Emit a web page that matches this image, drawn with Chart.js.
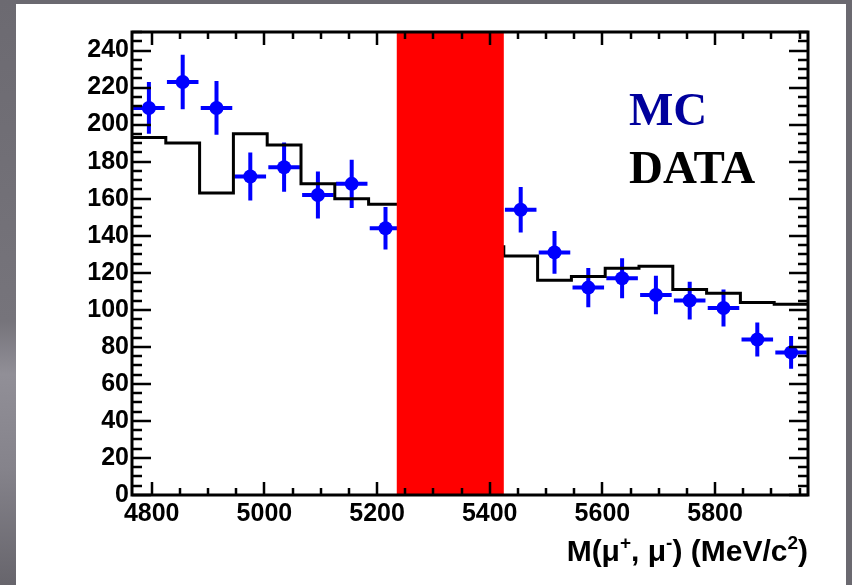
<!DOCTYPE html>
<html>
<head>
<meta charset="utf-8">
<script src="https://cdn.jsdelivr.net/npm/chart.js@4.4.1/dist/chart.umd.min.js"></script>
<style>
  html, body { margin: 0; padding: 0; background: #fff; }
</style>
</head>
<body>
<canvas id="myChart" width="852" height="585"></canvas>
<script>
// MC histogram: bin edges and contents (bins under the red band are hidden)
const mcEdges = [4765, 4825, 4885, 4945, 5005, 5065, 5125, 5185, 5245, 5305, 5365,
                 5425, 5485, 5545, 5605, 5665, 5725, 5785, 5845, 5905, 5965];
const mcCounts = [193, 190, 163, 195, 189, 168, 160, 157, 150, 142,
                  134, 129, 116, 118, 122.5, 123.5, 111, 109, 104, 103];

// data points (bin centres), values and vertical errors
const dataX = [4795, 4855, 4915, 4975, 5035, 5095, 5155, 5215,
               5455, 5515, 5575, 5635, 5695, 5755, 5815, 5875, 5935];
const dataY = [209, 223, 209, 172, 177, 162, 168, 144,
               154, 131, 112, 117, 108, 105, 101, 84, 77];
const dataErr = [14, 14.7, 14.5, 13, 13.3, 12.7, 13, 11.5,
                 12.3, 11.5, 10.6, 10.8, 10.4, 10.2, 10, 9.2, 8.8];
const xHalfWidth = 28;

// signal region (red band)
const bandRange = [5235, 5425];

// axes
const xRange = [4765, 5965];
const yRange = [0, 250];
const xTicks = [4800, 5000, 5200, 5400, 5600, 5800];
const yTicks = [0, 20, 40, 60, 80, 100, 120, 140, 160, 180, 200, 220, 240];

const histPoints = mcEdges.map((x, i) => ({ x: x, y: mcCounts[Math.min(i, mcCounts.length - 1)] }));
const dataPoints = dataX.map((x, i) => ({ x: x, y: dataY[i] }));

const tickFont = { family: '"Liberation Sans", Arial, sans-serif', size: 25, weight: 'bold' };

const framePlugin = {
  id: 'frame',
  beforeDraw(chart) {
    const c = chart.ctx;
    c.save();
    c.fillStyle = '#6b6970';
    c.fillRect(0, 0, chart.width, chart.height);
    const g = c.createLinearGradient(0, 0, 0, chart.height);
    g.addColorStop(0, '#6c6a71');
    g.addColorStop(0.55, '#76747b');
    g.addColorStop(0.64, '#918f97');
    g.addColorStop(0.8, '#85838b');
    g.addColorStop(1, '#67656c');
    c.fillStyle = g;
    c.fillRect(0, 0, 16, chart.height);
    c.fillStyle = '#ffffff';
    c.fillRect(16, 4, 830, chart.height - 4);
    c.restore();
  },
  beforeDatasetDraw(chart, args) {
    if (args.index !== 1) return;
    const c = chart.ctx, xs = chart.scales.x, ys = chart.scales.y, a = chart.chartArea;
    c.save();
    c.beginPath();
    c.rect(a.left, a.top, a.right - a.left, a.bottom - a.top);
    c.clip();
    c.strokeStyle = '#0000ff';
    c.lineWidth = 4;
    c.beginPath();
    dataX.forEach((x, i) => {
      const px = xs.getPixelForValue(x), py = ys.getPixelForValue(dataY[i]);
      c.moveTo(px, ys.getPixelForValue(dataY[i] - dataErr[i]));
      c.lineTo(px, ys.getPixelForValue(dataY[i] + dataErr[i]));
      c.moveTo(xs.getPixelForValue(x - xHalfWidth), py);
      c.lineTo(xs.getPixelForValue(x + xHalfWidth), py);
    });
    c.stroke();
    c.restore();
  },
  afterDatasetsDraw(chart) {
    const c = chart.ctx, xs = chart.scales.x, ys = chart.scales.y;
    const { left, right, top, bottom } = chart.chartArea;
    c.save();
    // red band
    c.fillStyle = '#ff0000';
    const bx0 = xs.getPixelForValue(bandRange[0]), bx1 = xs.getPixelForValue(bandRange[1]);
    c.fillRect(bx0, top, bx1 - bx0, bottom - top);

    // ticks on all four sides
    c.strokeStyle = '#000';
    c.lineWidth = 2.5;
    c.beginPath();
    for (let v = Math.ceil(xs.min / 50) * 50; v <= xs.max; v += 50) {
      const px = Math.round(xs.getPixelForValue(v));
      const len = v % 200 === 0 ? 13 : 7;
      c.moveTo(px, bottom); c.lineTo(px, bottom - len);
      c.moveTo(px, top); c.lineTo(px, top + len);
    }
    for (let v = 0; v <= ys.max; v += 5) {
      const py = Math.round(ys.getPixelForValue(v));
      const len = v % 20 === 0 ? 19 : 10;
      c.moveTo(left, py); c.lineTo(left + len, py);
      c.moveTo(right, py); c.lineTo(right - len, py);
    }
    c.stroke();
    c.lineWidth = 3;
    c.strokeRect(left, top, right - left, bottom - top);

    // legend-like labels
    c.textBaseline = 'alphabetic';
    c.textAlign = 'left';
    c.font = 'bold 47px "Liberation Serif", "Times New Roman", serif';
    c.fillStyle = '#00009c';
    c.fillText('MC', 629, 125);
    c.fillStyle = '#000000';
    c.fillText('DATA', 629, 183);

    // x axis title with superscripts
    const base = 30, sup = 19;
    const pieces = [
      ['M(\u03bc', false], ['+', true], [', \u03bc', false], ['-', true],
      [') (MeV/c', false], ['2', true], [')', false]
    ];
    const fontOf = s => 'bold ' + (s ? sup : base) + 'px "Liberation Sans", Arial, sans-serif';
    let total = 0;
    pieces.forEach(p => { c.font = fontOf(p[1]); total += c.measureText(p[0]).width; });
    let tx = right - total;
    const ty = 561;
    pieces.forEach(p => {
      c.font = fontOf(p[1]);
      c.fillText(p[0], tx, p[1] ? ty - 12 : ty);
      tx += c.measureText(p[0]).width;
    });
    c.restore();
  }
};

const ctx = document.getElementById('myChart').getContext('2d');

const myChart = new Chart(ctx, {
  type: 'scatter',
  data: {
    datasets: [{
      type: 'line',
      label: 'MC',
      data: histPoints,
      stepped: true,
      borderColor: '#000000',
      borderWidth: 3,
      pointRadius: 0,
      fill: false
    }, {
      label: 'DATA',
      data: dataPoints,
      backgroundColor: '#0000ff',
      borderColor: '#0000ff',
      borderWidth: 0,
      pointRadius: 7
    }]
  },
  options: {
    responsive: false,
    animation: false,
    devicePixelRatio: 1,
    layout: { padding: { left: 0, top: 32, right: 44, bottom: 0 } },
    plugins: {
      legend: { display: false },
      tooltip: { enabled: false }
    },
    scales: {
      x: {
        type: 'linear',
        min: xRange[0],
        max: xRange[1],
        grid: { display: false, drawTicks: false },
        border: { display: false },
        afterBuildTicks: s => { s.ticks = xTicks.map(v => ({ value: v })); },
        afterFit: s => { s.height = 90; },
        ticks: { color: '#000', font: tickFont, padding: 4, maxRotation: 0, callback: v => String(v) }
      },
      y: {
        type: 'linear',
        min: yRange[0],
        max: yRange[1],
        grid: { display: false, drawTicks: false },
        border: { display: false },
        afterBuildTicks: s => { s.ticks = yTicks.map(v => ({ value: v })); },
        afterFit: s => { s.width = 132; },
        ticks: { color: '#000', font: tickFont, padding: 3, callback: v => String(v) }
      }
    }
  },
  plugins: [framePlugin]
});
</script>
</body>
</html>
